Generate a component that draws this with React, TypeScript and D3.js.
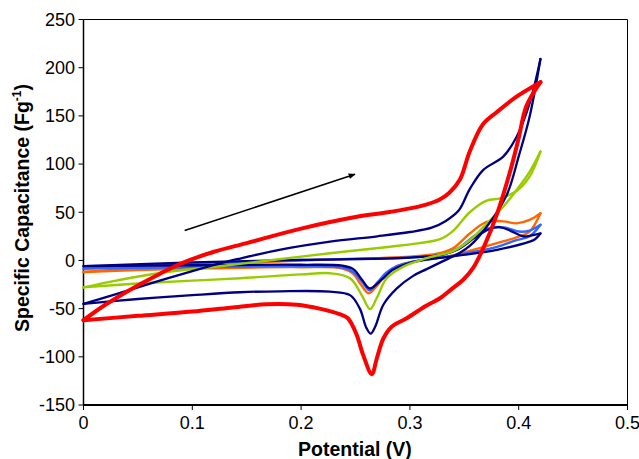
import React from "react";
import * as d3 from "d3";

type P = [number, number];

const xTicks = [0, 0.1, 0.2, 0.3, 0.4, 0.5];
const xTickLabels = ["0", "0.1", "0.2", "0.3", "0.4", "0.5"];
const yTicks = [250, 200, 150, 100, 50, 0, -50, -100, -150];

const redAnodic: P[] = [[0,-62],[0.02,-46],[0.045,-29],[0.07,-14],[0.09,-3],[0.12,9],[0.15,18],[0.2,33],[0.25,45],[0.28,50],[0.3,54],[0.315,58],[0.327,63],[0.336,70],[0.346,84],[0.355,113],[0.367,141],[0.38,154],[0.398,170],[0.42,185]];
const redCathodic: P[] = [[0.42,185],[0.407,160],[0.4,127],[0.392,92],[0.38,48],[0.368,14],[0.358,-8],[0.349,-20],[0.338,-30],[0.328,-39],[0.315,-47],[0.297,-60],[0.283,-69],[0.2756,-81],[0.2695,-102],[0.265,-118],[0.257,-98],[0.251,-77],[0.243,-60],[0.236,-56],[0.217,-50],[0.196,-46],[0.168,-45.5],[0.135,-49],[0.1,-53],[0.05,-57.5],[0,-62]];

const navyAnodic: P[] = [[0,-45],[0.03,-35],[0.07,-21],[0.1,-11],[0.1255,-3],[0.144,2],[0.18,11],[0.2266,19.5],[0.27,25],[0.3,29.5],[0.32,34],[0.333,41],[0.345,52],[0.355,74],[0.3675,94],[0.386,108],[0.398,128],[0.41,163],[0.42,209]];
const navyCathodic: P[] = [[0.42,209],[0.41,149],[0.4,108],[0.389,68],[0.3706,35],[0.355,15],[0.346,8],[0.33,-1],[0.3154,-9],[0.303,-16],[0.288,-29],[0.2756,-46],[0.268,-69],[0.264,-76],[0.26,-70],[0.254,-50],[0.245,-36],[0.2266,-32.4],[0.18,-32],[0.144,-33],[0.1,-36],[0.05,-40],[0,-45]];

const greenAnodic: P[] = [[0,-28],[0.03,-21],[0.07,-13],[0.1255,-6],[0.17,0],[0.2266,7.5],[0.28,14],[0.309,18],[0.3277,22],[0.34,31],[0.355,50],[0.3706,62],[0.383,64.5],[0.398,72],[0.41,87],[0.42,113]];
const greenCathodic: P[] = [[0.42,113],[0.41,92],[0.4,76],[0.386,56],[0.3706,38],[0.355,21],[0.34,10],[0.3154,2.3],[0.294,-6.4],[0.2787,-18.5],[0.2695,-39],[0.2633,-50.5],[0.2557,-36],[0.245,-18.5],[0.2266,-13.3],[0.2,-14.5],[0.144,-18.5],[0.1,-21],[0.05,-24],[0,-28]];

const orangeAnodic: P[] = [[0,-12],[0.05,-8],[0.1,-5],[0.2,0],[0.3,4],[0.325,7],[0.34,13],[0.355,28],[0.3706,40],[0.386,40.5],[0.398,38.5],[0.41,42],[0.42,49]];
const orangeCathodic: P[] = [[0.42,49],[0.41,30],[0.398,24],[0.38,18],[0.358,11],[0.334,4],[0.315,1],[0.3,-2],[0.288,-6],[0.278,-14],[0.27,-26],[0.262,-34],[0.255,-25],[0.248,-14],[0.238,-8.5],[0.2,-7],[0.1,-8.5],[0.05,-10],[0,-12]];

const blueAnodic: P[] = [[0,-8.5],[0.1,-3],[0.2,0.5],[0.3,3],[0.33,6],[0.345,13],[0.36,26],[0.375,34],[0.388,34],[0.4,30],[0.41,31],[0.42,37]];
const blueCathodic: P[] = [[0.42,37],[0.41,25],[0.398,21],[0.38,14],[0.36,9],[0.34,5],[0.32,1.5],[0.3,-2],[0.288,-6],[0.278,-13],[0.27,-23],[0.263,-31],[0.256,-22],[0.248,-12],[0.238,-7.5],[0.2,-6],[0.1,-7],[0,-8.5]];

const navySmallAnodic: P[] = [[0,-6],[0.1,-2],[0.2,0.5],[0.3,3],[0.33,6],[0.345,12],[0.36,24],[0.372,32],[0.382,34.5],[0.392,31],[0.404,25],[0.412,26],[0.42,28]];
const navySmallCathodic: P[] = [[0.42,28],[0.415,22],[0.41,19.5],[0.38,11],[0.349,5.7],[0.33,3],[0.31,0],[0.296,-4],[0.284,-10],[0.274,-20],[0.263,-29],[0.256,-20],[0.248,-9],[0.238,-5.5],[0.2,-4.5],[0.1,-5],[0,-6]];

const arrowStart: P = [0.093, 31];
const arrowEnd: P = [0.2495, 89.4];

const series = [
  { name: "orange", color: "#ff6600", width: 2.4, branches: [orangeAnodic, orangeCathodic] },
  { name: "blue", color: "#3366ff", width: 2.4, branches: [blueAnodic, blueCathodic] },
  { name: "navySmall", color: "#000080", width: 2.3, branches: [navySmallAnodic, navySmallCathodic] },
  { name: "green", color: "#99cc00", width: 2.4, branches: [greenAnodic, greenCathodic] },
  { name: "navy", color: "#000080", width: 2.3, branches: [navyAnodic, navyCathodic] },
  { name: "red", color: "#ff0000", width: 4, branches: [redAnodic, redCathodic] },
];

export default function App() {
  const W = 639, H = 459;
  const left = 83.5, right = 627.5, top = 19.5, bottom = 405;
  const x = d3.scaleLinear().domain([0, 0.5]).range([left, right]);
  const y = d3.scaleLinear().domain([-150, 250]).range([bottom, top]);
  const line = d3.line<P>().x(d => x(d[0])).y(d => y(d[1])).curve(d3.curveCatmullRom.alpha(0.5));
  const font = "'Liberation Sans', Arial, Helvetica, sans-serif";
  return (
    <svg width={W} height={H} style={{ position: "absolute", left: 0, top: 0, background: "#fff" }}>
      <defs>
        <marker id="ah" viewBox="0 0 10 10" refX="9" refY="5" markerWidth="7" markerHeight="7" orient="auto" markerUnits="userSpaceOnUse">
          <path d="M0,1 L10,5 L0,9 Z" fill="#000" />
        </marker>
      </defs>
      <line x1={left} x2={right} y1={top} y2={top} stroke="#000" strokeWidth={1} />
      <line x1={right} x2={right} y1={top} y2={bottom} stroke="#000" strokeWidth={1} />
      <line x1={left} x2={left} y1={top} y2={bottom} stroke="#000" strokeWidth={1.5} />
      <line x1={left} x2={right} y1={bottom} y2={bottom} stroke="#000" strokeWidth={1.8} />
      {yTicks.map(t => (
        <g key={"y" + t}>
          <line x1={left - 5} x2={left} y1={y(t)} y2={y(t)} stroke="#000" strokeWidth={1} />
          <text x={left - 8.5} y={y(t)} dy="0.35em" textAnchor="end" fontFamily={font} fontSize={18} fill="#000">{t}</text>
        </g>
      ))}
      {xTicks.map((t, i) => (
        <g key={"x" + t}>
          <line x1={x(t)} x2={x(t)} y1={bottom} y2={bottom + 5} stroke="#000" strokeWidth={1} />
          <text x={x(t)} y={429} textAnchor="middle" fontFamily={font} fontSize={18} fill="#000">{xTickLabels[i]}</text>
        </g>
      ))}
      <text x={355} y={456} textAnchor="middle" fontFamily={font} fontSize={19.5} fontWeight="bold" fill="#000">Potential (V)</text>
      <text transform={`translate(29,208) rotate(-90)`} textAnchor="middle" fontFamily={font} fontSize={19.5} fontWeight="bold" fill="#000">
        Specific Capacitance (Fg<tspan dy="-8" fontSize={12}>-1</tspan><tspan dy="8">)</tspan>
      </text>
      {series.map(s => s.branches.map((b, j) => (
        <path key={s.name + j} d={line(b) || ""} fill="none" stroke={s.color} strokeWidth={s.width} strokeLinejoin="round" strokeLinecap="round" />
      )))}
      <line x1={x(arrowStart[0])} y1={y(arrowStart[1])} x2={x(arrowEnd[0])} y2={y(arrowEnd[1])} stroke="#000" strokeWidth={1.6} markerEnd="url(#ah)" />
    </svg>
  );
}
